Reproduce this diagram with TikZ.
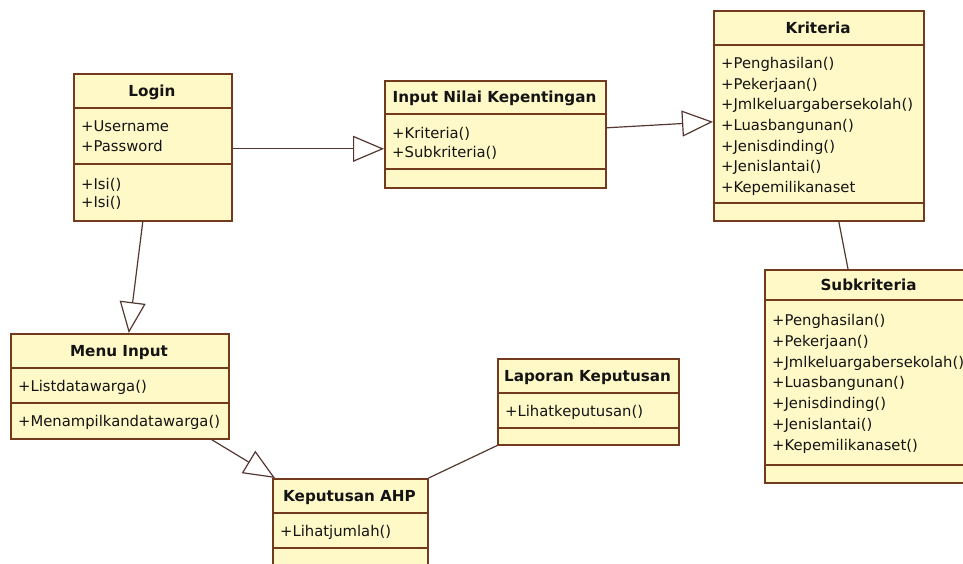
\documentclass[tikz,border=0pt]{standalone}
\usepackage{fontspec}
\setmainfont{DejaVu Sans}
\usetikzlibrary{arrows.meta}
\definecolor{clsfill}{RGB}{255,249,200}
\definecolor{clsline}{RGB}{115,58,30}
\definecolor{conn}{RGB}{85,55,50}
\definecolor{txt}{RGB}{20,20,20}
\begin{document}
\begin{tikzpicture}[x=1pt,y=-1pt,
  cls/.style={draw=clsline, fill=clsfill, line width=1.6pt, inner sep=0pt, anchor=north west},
  sep/.style={draw=clsline, line width=1.5pt},
  ttl/.style={font=\fontsize{15.2}{18}\selectfont\bfseries, text=txt, inner sep=0pt, text height=11.1pt, text depth=0pt},
  itm/.style={font=\fontsize{14.8}{18}\selectfont, text=txt, inner sep=0pt, anchor=west, text height=10.8pt, text depth=0pt},
  gen/.style={draw=conn, line width=1.2pt, -{Triangle[open, length=31pt, width=26pt, fill=white]}},
  assoc/.style={draw=conn, line width=1.2pt}]
\useasboundingbox (0,0) rectangle (963,563);
\fill[white] (0,0) rectangle (963,563);
\clip (0,0) rectangle (963,563);

% Login
\node[cls, minimum width=158pt, minimum height=147pt] (login) at (73,73) {};
\draw[sep] (73,108) -- (231,108);
\draw[sep] (73,164) -- (231,164);
\node[ttl] (loginT) at (152,91) {Login};
\node[itm] (login1) at (81,126) {+Username};
\node[itm] (login2) at (81,146) {+Password};
\node[itm] (login3) at (81,184) {+Isi()};
\node[itm] (login4) at (81,202) {+Isi()};

% Input Nilai Kepentingan
\node[cls, minimum width=221pt, minimum height=107pt] (inp) at (384,80) {};
\draw[sep] (384,114) -- (605,114);
\draw[sep] (384,169) -- (605,169);
\node[ttl] (inpT) at (494.5,97) {Input Nilai Kepentingan};
\node[itm] (inp1) at (392,133) {+Kriteria()};
\node[itm] (inp2) at (392,152) {+Subkriteria()};

% Kriteria
\node[cls, minimum width=210pt, minimum height=210pt] (krit) at (713,10) {};
\draw[sep] (713,45) -- (923,45);
\draw[sep] (713,203) -- (923,203);
\node[ttl] (kritT) at (818,27.5) {Kriteria};
\node[itm] (krit1) at (721,63) {+Penghasilan()};
\node[itm] (krit2) at (721,83.7) {+Pekerjaan()};
\node[itm] (krit3) at (721,104.4) {+Jmlkeluargabersekolah()};
\node[itm] (krit4) at (721,125.1) {+Luasbangunan()};
\node[itm] (krit5) at (721,145.8) {+Jenisdinding()};
\node[itm] (krit6) at (721,166.5) {+Jenislantai()};
\node[itm] (krit7) at (721,187.2) {+Kepemilikanaset};

% Subkriteria
\node[cls, minimum width=209pt, minimum height=213pt] (sub) at (764,269) {};
\draw[sep] (764,300) -- (973,300);
\draw[sep] (764,465) -- (973,465);
\node[ttl] (subT) at (868.5,284.5) {Subkriteria};
\node[itm] (sub1) at (772,320) {+Penghasilan()};
\node[itm] (sub2) at (772,340.8) {+Pekerjaan()};
\node[itm] (sub3) at (772,361.6) {+Jmlkeluargabersekolah()};
\node[itm] (sub4) at (772,382.4) {+Luasbangunan()};
\node[itm] (sub5) at (772,403.2) {+Jenisdinding()};
\node[itm] (sub6) at (772,424) {+Jenislantai()};
\node[itm] (sub7) at (772,444.8) {+Kepemilikanaset()};

% Menu Input
\node[cls, minimum width=218pt, minimum height=105pt] (menu) at (10,333) {};
\draw[sep] (10,368) -- (228,368);
\draw[sep] (10,403) -- (228,403);
\node[ttl] (menuT) at (119,350.5) {Menu Input};
\node[itm] (menu1) at (18,386) {+Listdatawarga()};
\node[itm] (menu2) at (18,421) {+Menampilkandatawarga()};

% Laporan Keputusan
\node[cls, minimum width=181pt, minimum height=86pt] (lap) at (497,358) {};
\draw[sep] (497,393) -- (678,393);
\draw[sep] (497,428) -- (678,428);
\node[ttl] (lapT) at (587.5,375.5) {Laporan Keputusan};
\node[itm] (lap1) at (505,411) {+Lihatkeputusan()};

% Keputusan AHP
\node[cls, minimum width=155pt, minimum height=88pt] (kep) at (272,478) {};
\draw[sep] (272,513) -- (427,513);
\draw[sep] (272,548) -- (427,548);
\node[ttl] (kepT) at (349.5,495.5) {Keputusan AHP};
\node[itm] (kep1) at (280,531) {+Lihatjumlah()};

% connectors
\draw[gen] ([yshift=-1.5pt]login.east) -- ([yshift=-14.5pt]inp.west);
\draw[gen] ([yshift=6.5pt]inp.east) -- ([yshift=-6pt]krit.west);
\draw[gen] ([xshift=-10pt]login.south) -- ([xshift=9pt]menu.north);
\draw[gen] ([xshift=-18pt]menu.south east) -- ([xshift=3pt]kep.north west);
\draw[assoc] ([xshift=20pt]krit.south) -- ([xshift=84pt]sub.north west);
\draw[assoc] (lap.south west) -- (kep.north east);
\end{tikzpicture}
\end{document}
